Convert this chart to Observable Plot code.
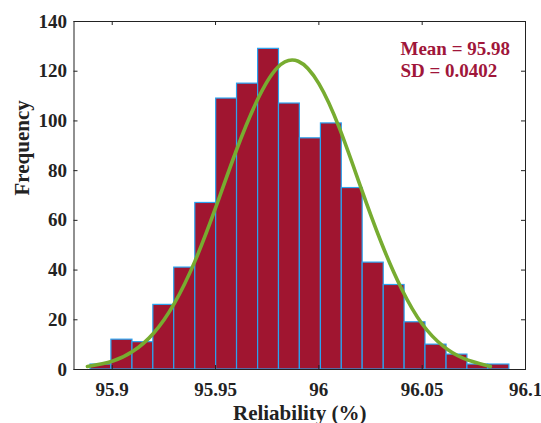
<!DOCTYPE html>
<html>
<head>
<meta charset="utf-8">
<script src="https://cdn.jsdelivr.net/npm/d3@7"></script>
<script src="https://cdn.jsdelivr.net/npm/@observablehq/plot@0.6"></script>
<style>
  html, body { margin: 0; padding: 0; background: #fff; }
  #chart { width: 541px; height: 423px; }
</style>
</head>
<body>
<div id="chart"></div>
<script>
// Histogram bin edges (Reliability %)
const binEdges = [95.8895, 95.8996, 95.9098, 95.9199, 95.9300, 95.9402, 95.9503, 95.9604, 95.9706, 95.9807,
                  95.9908, 96.0010, 96.0111, 96.0212, 96.0314, 96.0415, 96.0516, 96.0618, 96.0719, 96.0820, 96.0922];
// Frequencies per bin
const counts = [2, 12, 11, 26, 41, 67, 109, 115, 129, 107, 93, 99, 73, 43, 34, 19, 10, 6, 2, 2];
// Fitted curve
const curveX = [95.888, 95.90, 95.91, 95.92, 95.93, 95.94, 95.95, 95.96, 95.97, 95.98, 95.99,
                96.00, 96.01, 96.02, 96.03, 96.04, 96.05, 96.06, 96.07, 96.083];
const curveY = [1.2, 3.3, 7.3, 14.6, 26.5, 43.5, 65, 88, 108, 121.5, 124,
                115, 97, 74, 51.5, 32.5, 18.3, 9.5, 4.5, 1.2];
const xTicks = [95.9, 95.95, 96, 96.05, 96.1];
const xTickLabels = ["95.9", "95.95", "96", "96.05", "96.1"];
const yTicks = [0, 20, 40, 60, 80, 100, 120, 140];
const annotations = ["Mean = 95.98", "SD = 0.0402"];

const bins = counts.map((c, i) => ({x1: binEdges[i], x2: binEdges[i + 1], count: c}));
const curve = curveX.map((x, i) => ({x, y: curveY[i]}));

const W = 541, H = 423;
const mL = 73.5, mR = 16, mT = 21, mB = 54;
const plotH = H - mT - mB, plotW = W - mL - mR;
const font = "'Liberation Serif', 'Times New Roman', serif";

const chart = Plot.plot({
  width: W,
  height: H,
  marginLeft: mL,
  marginRight: mR,
  marginTop: mT,
  marginBottom: mB,
  style: {fontFamily: font, fontWeight: "bold", fontSize: "19px", color: "#222", background: "#fff"},
  x: {domain: [95.8815, 96.1]},
  y: {domain: [0, 140]},
  marks: [
    Plot.rectY(bins, {x1: "x1", x2: "x2", y: "count", fill: "#A01530", stroke: "#2AA3F0", strokeWidth: 1.2}),
    Plot.line(curve, {x: "x", y: "y", curve: "natural", stroke: "#77AC30", strokeWidth: 3.6}),
    Plot.frame({stroke: "#222", strokeWidth: 1}),
    // inward ticks
    Plot.tickX(xTicks, {x: d => d, insetTop: plotH - 4, stroke: "#222"}),
    Plot.tickX(xTicks, {x: d => d, insetBottom: plotH - 4, stroke: "#222"}),
    Plot.tickY(yTicks, {y: d => d, insetRight: plotW - 4, stroke: "#222"}),
    Plot.tickY(yTicks, {y: d => d, insetLeft: plotW - 4, stroke: "#222"}),
    Plot.axisX(xTicks, {anchor: "bottom", tickSize: 0, tickPadding: 13, tickFormat: (d, i) => xTickLabels[i], label: null, fontSize: 19}),
    Plot.axisY(yTicks, {anchor: "left", tickSize: 0, tickPadding: 7, label: null, fontSize: 19}),
    Plot.text(["Reliability (%)"], {frameAnchor: "bottom", dy: 50, lineAnchor: "bottom", fontSize: 21, fontWeight: "bold", fill: "#222"}),
    Plot.text(["Frequency"], {frameAnchor: "left", dx: -45, rotate: -90, lineAnchor: "bottom", fontSize: 21, fontWeight: "bold", fill: "#222"}),
    Plot.text([annotations.join("\n")], {frameAnchor: "top-right", dx: -125, dy: 18, textAnchor: "start", lineAnchor: "top", lineHeight: 1.16, fontSize: 19, fontWeight: "bold", fill: "#A0163A"})
  ]
});
document.getElementById("chart").appendChild(chart);
</script>
</body>
</html>
